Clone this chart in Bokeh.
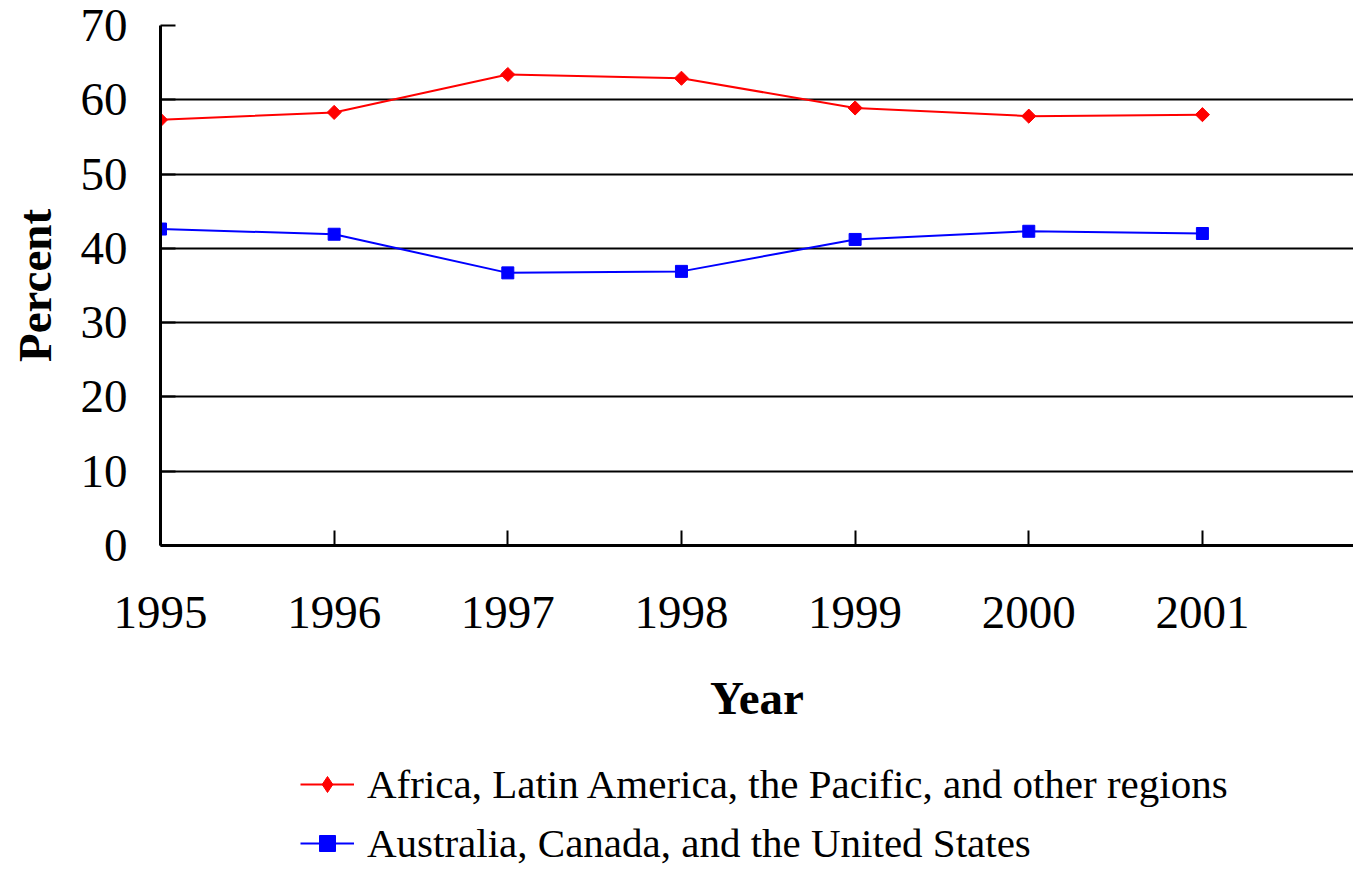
import math
from bokeh.plotting import figure
from bokeh.layouts import column
from bokeh.models import Range1d, FixedTicker, Legend, LegendItem
from bokeh.embed import file_html
from bokeh.resources import INLINE

years = [1995, 1996, 1997, 1998, 1999, 2000, 2001]
africa_latam = [57.3, 58.3, 63.4, 62.9, 58.9, 57.8, 58.0]
aus_can_us = [42.6, 41.9, 36.7, 36.9, 41.2, 42.3, 42.0]
y_ticks = [0, 10, 20, 30, 40, 50, 60, 70]
series_names = ["Africa, Latin America, the Pacific, and other regions",
                "Australia, Canada, and the United States"]

FONT = "Liberation Serif"
RED = "#FF0000"
BLUE = "#0000FF"

MAIN_H = 760
p = figure(width=1353, height=MAIN_H, output_backend="svg", toolbar_location=None,
           x_range=Range1d(1995, 2001.87), y_range=Range1d(0, 70),
           min_border_left=160, min_border_top=25, min_border_right=0,
           min_border_bottom=MAIN_H - 545)
p.outline_line_color = None
p.background_fill_color = "white"
p.border_fill_color = "white"

p.xgrid.visible = False
p.ygrid.ticker = FixedTicker(ticks=y_ticks[1:])
p.ygrid.grid_line_color = "black"
p.ygrid.grid_line_width = 2

for ax in (p.xaxis[0], p.yaxis[0]):
    ax.axis_line_color = "black"
    ax.axis_line_width = 3
    ax.major_tick_in = 15
    ax.major_tick_out = 0
    ax.major_tick_line_width = 2
    ax.minor_tick_line_color = None
    ax.major_label_text_font = FONT
    ax.major_label_text_font_size = "47px"
    ax.major_label_text_color = "black"
    ax.axis_label_text_font = FONT
    ax.axis_label_text_font_size = "47px"
    ax.axis_label_text_font_style = "bold"
    ax.axis_label_text_color = "black"

p.xaxis.ticker = FixedTicker(ticks=years)
p.xaxis.major_label_standoff = 51
p.xaxis.axis_label = "Year"
p.xaxis.axis_label_standoff = 41
p.yaxis.ticker = FixedTicker(ticks=y_ticks)
p.yaxis.major_label_standoff = 33
p.yaxis.axis_label = "Percent"
p.yaxis.axis_label_standoff = 17

p.line(years, africa_latam, line_color=RED, line_width=2)
p.scatter(years, africa_latam, marker="square", angle=math.pi / 4, size=10,
          fill_color=RED, line_color=RED)
p.line(years, aus_can_us, line_color=BLUE, line_width=2)
p.scatter(years, aus_can_us, marker="square", size=12,
          fill_color=BLUE, line_color=BLUE)

# legend strip below the chart
LEG_H = 867 - MAIN_H
lf = figure(width=1353, height=LEG_H, output_backend="svg", toolbar_location=None,
            x_range=Range1d(0, 1), y_range=Range1d(0, 1),
            min_border=0, min_border_left=0, min_border_right=0,
            min_border_top=0, min_border_bottom=0)
lf.axis.visible = False
lf.grid.visible = False
lf.outline_line_color = None
lf.border_fill_color = "white"
# legend-only renderers, placed outside the visible range
a_l = lf.line([5, 6], [5, 6], line_color=RED, line_width=2)
a_m = lf.scatter([5], [5], marker="diamond", size=16, fill_color=RED, line_color=RED)
b_l = lf.line([5, 6], [5, 6], line_color=BLUE, line_width=2)
b_m = lf.scatter([5], [5], marker="square", size=12, fill_color=BLUE, line_color=BLUE)

legend = Legend(items=[LegendItem(label=series_names[0], renderers=[a_l, a_m]),
                       LegendItem(label=series_names[1], renderers=[b_l, b_m])],
                location=(140, 0), orientation="vertical")
legend.label_text_font = FONT
legend.label_text_font_size = "41px"
legend.label_text_color = "black"
legend.glyph_width = 54
legend.glyph_height = 40
legend.label_standoff = 13
legend.spacing = 11
legend.padding = 0
legend.margin = 0
legend.border_line_color = None
legend.background_fill_alpha = 0
lf.add_layout(legend, "center")

layout = column(p, lf, spacing=0)
open("out.html", "w").write(file_html(layout, INLINE))
